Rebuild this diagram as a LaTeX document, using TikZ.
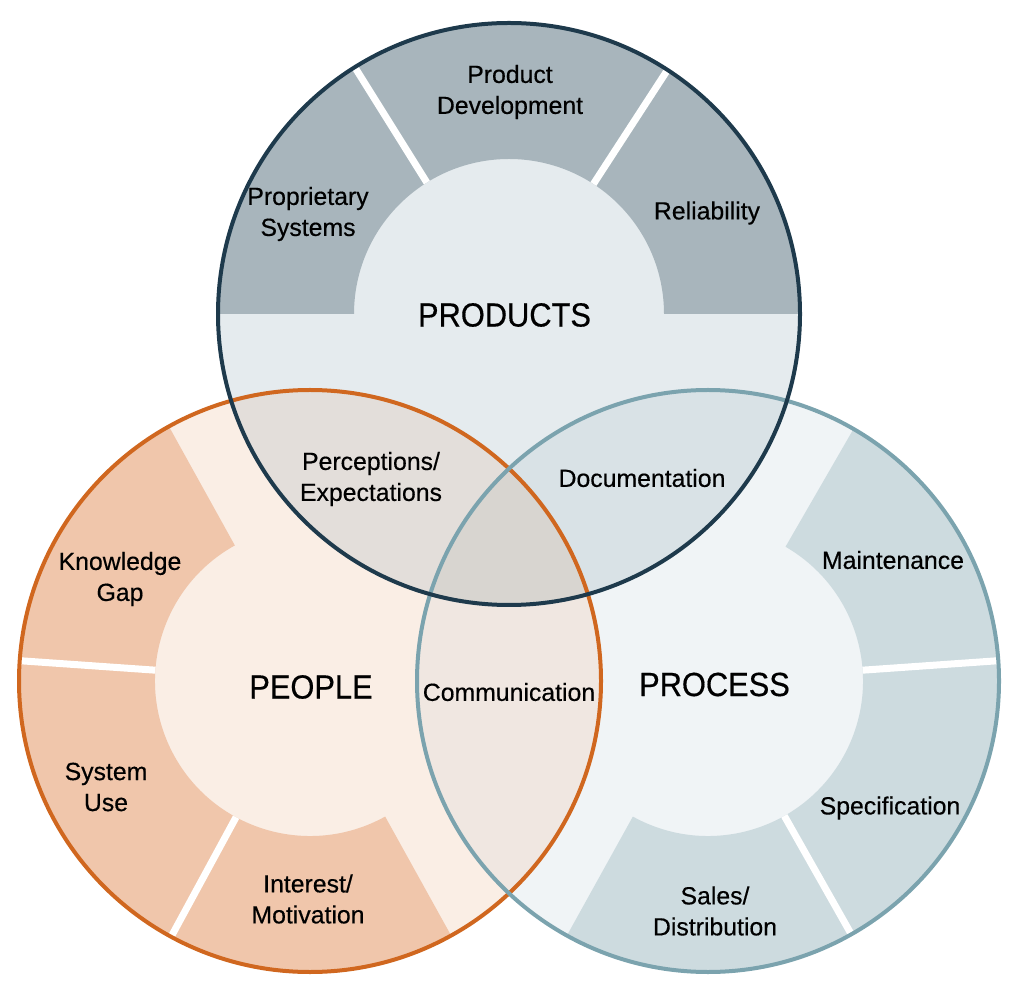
\documentclass[tikz,border=0pt]{standalone}
\usepackage{fontspec}
\setmainfont[FakeBold=0.4]{Liberation Sans}
\newfontfamily\bigfont[FakeStretch=0.92,FakeBold=0.4]{Liberation Sans}
\definecolor{prodline}{HTML}{1E3A4C}
\definecolor{prodseg}{HTML}{A8B5BC}
\definecolor{prodin}{HTML}{E5EBEE}
\definecolor{peopline}{HTML}{D0671F}
\definecolor{peopseg}{HTML}{F0C6AB}
\definecolor{peopin}{HTML}{FAEEE5}
\definecolor{procline}{HTML}{7BA3AE}
\definecolor{procseg}{HTML}{CDDBDF}
\definecolor{procin}{HTML}{F0F4F6}
\definecolor{prodpeop}{HTML}{E3DEDA}
\definecolor{prodproc}{HTML}{D9E2E6}
\definecolor{peopproc}{HTML}{F0E7E1}
\definecolor{allthree}{HTML}{D8D5D0}

\begin{document}
\begin{tikzpicture}[x=1pt,y=1pt,
    lbl/.style={font=\fontsize{24.8}{31}\selectfont, align=center},
    big/.style={font=\bigfont\fontsize{33.5}{40}\selectfont},
    divider/.style={white, line width=7pt},
    ring/.style={line width=4pt}]
\useasboundingbox (0,0) rectangle (1024,999);
\coordinate (prod) at (509,685);
\coordinate (peop) at (310,318);
\coordinate (proc) at (708,318);

% people
\fill[peopin] (peop) circle (291);
\begin{scope}[shift={(peop)}]
  \fill[peopseg] (119:291) arc[start angle=119, end angle=299, radius=291]
    -- (299:155) arc[start angle=299, end angle=119, radius=155] -- cycle;
  \draw[divider] (176:155) -- (176:293);
  \draw[divider] (241.5:155) -- (241.5:293);
\end{scope}

% process
\fill[procin] (proc) circle (291);
\begin{scope}[shift={(proc)}]
  \fill[procseg] (60:291) arc[start angle=60, end angle=-119, radius=291]
    -- (-119:155) arc[start angle=-119, end angle=60, radius=155] -- cycle;
  \draw[divider] (4:155) -- (4:293);
  \draw[divider] (-60.5:155) -- (-60.5:293);
\end{scope}

% products
\fill[prodin] (prod) circle (291);
\begin{scope}[shift={(prod)}]
  \fill[prodseg] (0:291) arc[start angle=0, end angle=180, radius=291]
    -- (180:155) arc[start angle=180, end angle=0, radius=155] -- cycle;
  \draw[divider] (57:155) -- (57:293);
  \draw[divider] (122:155) -- (122:293);
\end{scope}

% overlaps
\begin{scope}
  \clip (peop) circle (291);
  \fill[peopproc] (proc) circle (291);
  \fill[prodpeop] (prod) circle (291);
\end{scope}
\begin{scope}
  \clip (proc) circle (291);
  \fill[prodproc] (prod) circle (291);
  \clip (peop) circle (291);
  \fill[allthree] (prod) circle (291);
\end{scope}

\draw[ring, peopline] (peop) circle (291);
\draw[ring, procline] (proc) circle (291);
\draw[ring, prodline] (prod) circle (291);

\node[lbl] (develop) at (510,907) {Product\\Development};
\node[lbl] (propsys) at (308,785) {Proprietary\\Systems};
\node[lbl] (reliab) at (707,786) {Reliability};
\node[big] (products) at (504.5,684) {PRODUCTS};
\node[lbl] (percept) at (371,520) {Perceptions/\\Expectations};
\node[lbl] (docum) at (642,521) {Documentation};
\node[lbl] (knowgap) at (120,420) {Knowledge\\Gap};
\node[big] (people) at (311,312) {PEOPLE};
\node[lbl] (commun) at (509,307) {Communication};
\node[big] (process) at (714.5,314.5) {PROCESS};
\node[lbl] (maint) at (893,439) {Maintenance};
\node[lbl] (sysuse) at (106,212) {System\\Use};
\node[lbl] (specif) at (890,191) {Specification};
\node[lbl] (interest) at (308,100) {Interest/\\Motivation};
\node[lbl] (sales) at (715,88) {Sales/\\Distribution};
\end{tikzpicture}
\end{document}
